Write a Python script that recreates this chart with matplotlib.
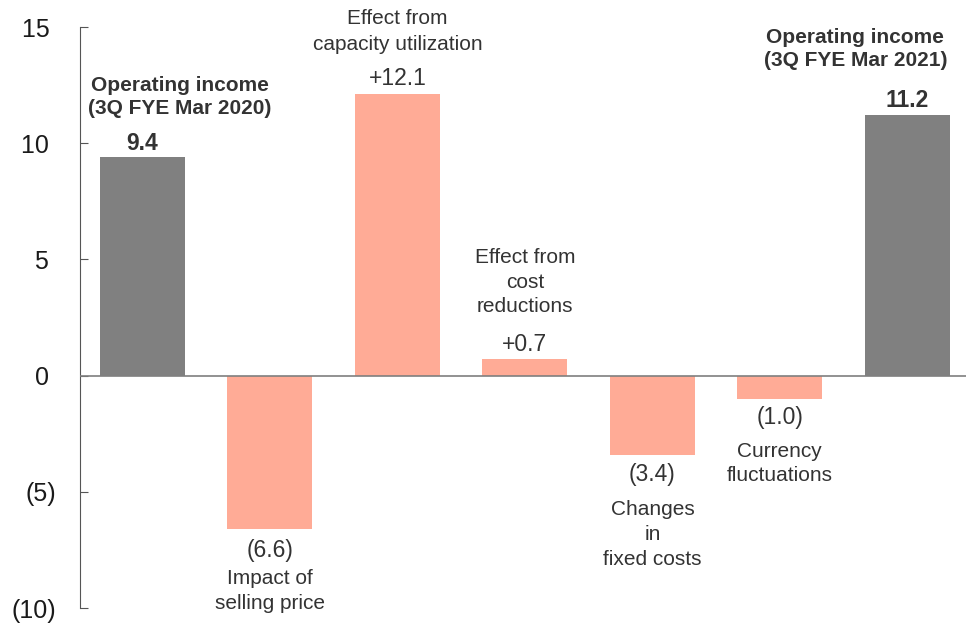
import matplotlib.pyplot as plt
import matplotlib as mpl

mpl.rcParams['font.family'] = ['Liberation Sans', 'DejaVu Sans']

# data
categories = ['Operating income\n(3Q FYE Mar 2020)', 'Impact of\nselling price',
              'Effect from\ncapacity utilization', 'Effect from\ncost\nreductions',
              'Changes\nin\nfixed costs', 'Currency\nfluctuations',
              'Operating income\n(3Q FYE Mar 2021)']
values = [9.4, -6.6, 12.1, 0.7, -3.4, -1.0, 11.2]
value_labels = ['9.4', '(6.6)', '+12.1', '+0.7', '(3.4)', '(1.0)', '11.2']
is_total = [True, False, False, False, False, False, True]

yticks = [-10, -5, 0, 5, 10, 15]
ytick_labels = ['(10)', '(5)', '0 ', '5 ', '10 ', '15 ']

gray = '#808080'
salmon = '#FFAB96'
txt = '#333333'

fig = plt.figure(figsize=(9.66, 6.28), dpi=100)
ax = fig.add_axes([0.0828, 0.0318, 0.9172, 0.9252])

x = list(range(len(values)))
colors = [gray if t else salmon for t in is_total]
ax.bar(x, values, width=0.667, color=colors, zorder=2)
ax.axhline(0, color='#7f7f7f', lw=1.2, zorder=3)

ax.set_xlim(-0.49, 6.46)
ax.set_ylim(-10, 15)
ax.set_yticks(yticks)
ax.set_yticklabels(ytick_labels, fontsize=18, color='#1a1a1a')
ax.tick_params(axis='y', direction='in', length=6, color='#555555', pad=17)
ax.set_xticks([])
for s in ['top', 'right', 'bottom']:
    ax.spines[s].set_visible(False)
ax.spines['left'].set_color('#555555')


def put(xi, yv, dy, s, dx=0, size=15, weight='normal'):
    ax.annotate(s, (xi, yv), xytext=(dx, dy), textcoords='offset pixels',
                ha='center', va='center', fontsize=size, color=txt,
                fontweight=weight)


# value labels: offset in pixels above/below bar end
val_off = [14, -21, 16, 15, -20, -19, 15]
for i, v in enumerate(values):
    put(i, v, val_off[i], value_labels[i], size=16.5,
        weight='bold' if is_total[i] else 'normal')

# category labels, line by line
cat_off = {
    0: ([72, 49], 37),
    1: ([-49, -74], 0),
    2: ([76, 50], 0),
    3: ([102, 77, 53], 0),
    4: ([-55, -80, -105], 0),
    5: ([-53, -77], 0),
    6: ([78, 55], -52),
}
for i, (offs, dx) in cat_off.items():
    lines = categories[i].split('\n')
    for line, dy in zip(lines, offs):
        put(i, values[i], dy, line, dx=dx, size=15,
            weight='bold' if is_total[i] else 'normal')

fig.savefig('out.png', dpi=100)
